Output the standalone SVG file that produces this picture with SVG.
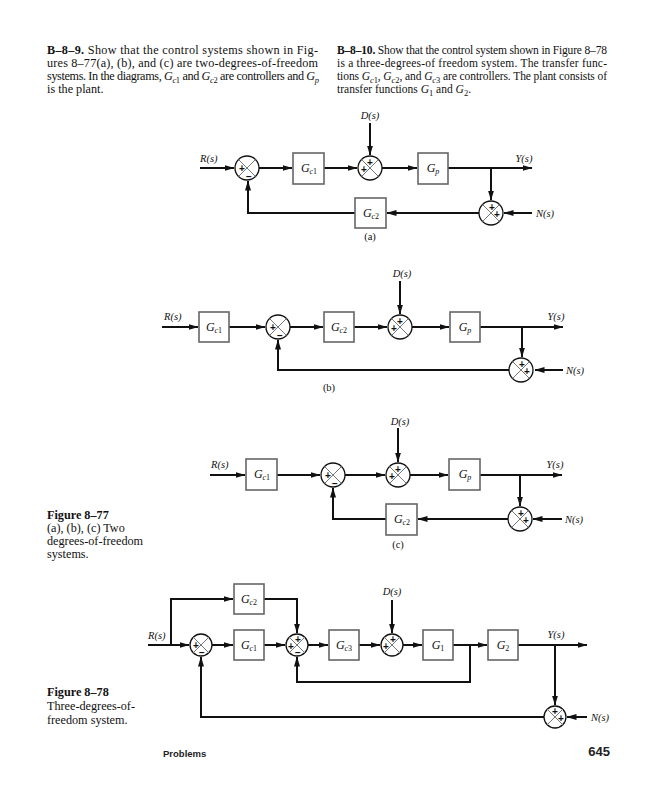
<svg xmlns="http://www.w3.org/2000/svg" xmlns:xlink="http://www.w3.org/1999/xlink" width="653" height="800" viewBox="0 0 653 800">
<style>
.p{font-family:"Liberation Serif",serif;font-size:12.2px;fill:#111}
.pr{font-family:"Liberation Serif",serif;font-size:11.5px;fill:#111}
.b{font-weight:bold}
.i{font-style:italic}
.sub{font-size:8.5px}
.lbl{font-family:"Liberation Serif",serif;font-size:10.5px;font-style:italic;fill:#111}
.cap{font-family:"Liberation Serif",serif;font-size:10.5px;fill:#111}
.blk{font-family:"Liberation Serif",serif;font-size:12px;fill:#111;text-anchor:middle}
.bs{font-size:8px}
.box{fill:#fff;stroke:#666;stroke-width:1.6}
.ln{fill:none;stroke:#111;stroke-width:2}
.sg{font-family:"Liberation Sans",sans-serif;font-size:10px;font-weight:bold;fill:#111;text-anchor:middle;dominant-baseline:central}
.ft{font-family:"Liberation Sans",sans-serif;font-weight:bold;fill:#222}
</style>
<defs>
<marker id="ah" markerWidth="10" markerHeight="6" refX="9.5" refY="3" orient="auto" markerUnits="userSpaceOnUse"><path d="M0,0 L10,3 L0,6 z" fill="#111"/></marker>
<g id="sum"><circle r="12" fill="#fff" stroke="#111" stroke-width="1.3"/><path d="M-8.5,-8.5 L8.5,8.5 M-8.5,8.5 L8.5,-8.5" stroke="#777" stroke-width="1"/></g>
<g id="sums"><circle r="11" fill="#fff" stroke="#111" stroke-width="1.3"/><path d="M-7.8,-7.8 L7.8,7.8 M-7.8,7.8 L7.8,-7.8" stroke="#777" stroke-width="1"/></g>
</defs>

<!-- Text paragraphs -->
<g id="text-b89">
<text class="p" x="47" y="54" textLength="271" lengthAdjust="spacing"><tspan class="b">B–8–9.</tspan> Show that the control systems shown in Fig-</text>
<text class="p" x="47" y="67" textLength="271" lengthAdjust="spacing">ures 8–77(a), (b), and (c) are two-degrees-of-freedom</text>
<text class="p" x="47" y="80" textLength="272" lengthAdjust="spacing">systems. In the diagrams, <tspan class="i">G</tspan><tspan class="sub" dy="2.5"><tspan class="i">c</tspan>1</tspan><tspan dy="-2.5"> and </tspan><tspan class="i">G</tspan><tspan class="sub" dy="2.5"><tspan class="i">c</tspan>2</tspan><tspan dy="-2.5"> are controllers and </tspan><tspan class="i">G</tspan><tspan class="sub i" dy="2.5">p</tspan></text>
<text class="p" x="47" y="93">is the plant.</text>
</g>
<g id="text-b810">
<text class="pr" x="337" y="54" textLength="270" lengthAdjust="spacing"><tspan class="b">B–8–10.</tspan> Show that the control system shown in Figure 8–78</text>
<text class="pr" x="337" y="67" textLength="270" lengthAdjust="spacing">is a three-degrees-of freedom system. The transfer func-</text>
<text class="pr" x="337" y="80" textLength="270" lengthAdjust="spacing">tions <tspan class="i">G</tspan><tspan class="sub" dy="2.5"><tspan class="i">c</tspan>1</tspan><tspan dy="-2.5">, </tspan><tspan class="i">G</tspan><tspan class="sub" dy="2.5"><tspan class="i">c</tspan>2</tspan><tspan dy="-2.5">, and </tspan><tspan class="i">G</tspan><tspan class="sub" dy="2.5"><tspan class="i">c</tspan>3</tspan><tspan dy="-2.5"> are controllers. The plant consists of</tspan></text>
<text class="pr" x="337" y="93">transfer functions <tspan class="i">G</tspan><tspan class="sub" dy="2.5">1</tspan><tspan dy="-2.5"> and </tspan><tspan class="i">G</tspan><tspan class="sub" dy="2.5">2</tspan><tspan dy="-2.5">.</tspan></text>
</g>

<!-- ============ Diagram (a) ============ -->
<g id="a-connectors">
<path class="ln" d="M200,168 H234" marker-end="url(#ah)"/>
<path class="ln" d="M259,168 H292" marker-end="url(#ah)"/>
<path class="ln" d="M324,168 H357" marker-end="url(#ah)"/>
<path class="ln" d="M370,123 V155" marker-end="url(#ah)"/>
<path class="ln" d="M382,168 H417" marker-end="url(#ah)"/>
<path class="ln" d="M448,168 H532" marker-end="url(#ah)"/>
<path class="ln" d="M491,168 V200" marker-end="url(#ah)"/>
<path class="ln" d="M532,213 H504" marker-end="url(#ah)"/>
<path class="ln" d="M479,213 H387" marker-end="url(#ah)"/>
<path class="ln" d="M355,213 H248 V181" marker-end="url(#ah)"/>
</g>
<g id="a-labels">
<text class="lbl" x="200" y="162">R(s)</text>
<text class="lbl" x="370" y="119" text-anchor="middle">D(s)</text>
<text class="lbl" x="524" y="162" text-anchor="middle">Y(s)</text>
<text class="lbl" x="536" y="217">N(s)</text>
<text class="cap" x="370" y="240" text-anchor="middle">(a)</text>
</g>
<g id="a-sum1"><use xlink:href="#sum" x="247" y="168"/><text class="sg" x="242" y="168">+</text><text class="sg" x="249" y="176">−</text></g>
<g id="a-Gc1"><rect class="box" x="293" y="153" width="31" height="31"/><text class="blk" x="309" y="172"><tspan class="i">G</tspan><tspan class="bs" dy="2"><tspan class="i">c</tspan>1</tspan></text></g>
<g id="a-sum2"><use xlink:href="#sum" x="370" y="168"/><text class="sg" x="370" y="162">+</text><text class="sg" x="364" y="169">+</text></g>
<g id="a-Gp"><rect class="box" x="418" y="153" width="30" height="31"/><text class="blk" x="433" y="172"><tspan class="i">G</tspan><tspan class="bs i" dy="2">p</tspan></text></g>
<g id="a-sum3"><use xlink:href="#sum" x="491" y="213"/><text class="sg" x="492" y="207">+</text><text class="sg" x="497" y="214">+</text></g>
<g id="a-Gc2"><rect class="box" x="355" y="198" width="31" height="30"/><text class="blk" x="371" y="217"><tspan class="i">G</tspan><tspan class="bs" dy="2"><tspan class="i">c</tspan>2</tspan></text></g>

<!-- ============ Diagram (b) ============ -->
<g id="b-connectors">
<path class="ln" d="M162,327 H198" marker-end="url(#ah)"/>
<path class="ln" d="M229,327 H265" marker-end="url(#ah)"/>
<path class="ln" d="M290,327 H323" marker-end="url(#ah)"/>
<path class="ln" d="M354,327 H387" marker-end="url(#ah)"/>
<path class="ln" d="M400,281 V314" marker-end="url(#ah)"/>
<path class="ln" d="M412,327 H449" marker-end="url(#ah)"/>
<path class="ln" d="M480,327 H563" marker-end="url(#ah)"/>
<path class="ln" d="M522,327 V357" marker-end="url(#ah)"/>
<path class="ln" d="M563,370 H535" marker-end="url(#ah)"/>
<path class="ln" d="M509,370 H278 V340" marker-end="url(#ah)"/>
</g>
<g id="b-labels">
<text class="lbl" x="164" y="320">R(s)</text>
<text class="lbl" x="402" y="277" text-anchor="middle">D(s)</text>
<text class="lbl" x="556" y="320" text-anchor="middle">Y(s)</text>
<text class="lbl" x="566" y="374">N(s)</text>
<text class="cap" x="329" y="391" text-anchor="middle">(b)</text>
</g>
<g id="b-Gc1"><rect class="box" x="199" y="312" width="30" height="30"/><text class="blk" x="214" y="331"><tspan class="i">G</tspan><tspan class="bs" dy="2"><tspan class="i">c</tspan>1</tspan></text></g>
<g id="b-sum1"><use xlink:href="#sum" x="278" y="327"/><text class="sg" x="273" y="327">+</text><text class="sg" x="280" y="335">−</text></g>
<g id="b-Gc2"><rect class="box" x="324" y="312" width="30" height="30"/><text class="blk" x="339" y="331"><tspan class="i">G</tspan><tspan class="bs" dy="2"><tspan class="i">c</tspan>2</tspan></text></g>
<g id="b-sum2"><use xlink:href="#sum" x="400" y="327"/><text class="sg" x="400" y="321">+</text><text class="sg" x="394" y="328">+</text></g>
<g id="b-Gp"><rect class="box" x="450" y="312" width="30" height="30"/><text class="blk" x="465" y="331"><tspan class="i">G</tspan><tspan class="bs i" dy="2">p</tspan></text></g>
<g id="b-sum3"><use xlink:href="#sum" x="521" y="370"/><text class="sg" x="522" y="364">+</text><text class="sg" x="527" y="371">+</text></g>

<!-- ============ Diagram (c) ============ -->
<g id="c-connectors">
<path class="ln" d="M210,475 H245" marker-end="url(#ah)"/>
<path class="ln" d="M277,475 H320" marker-end="url(#ah)"/>
<path class="ln" d="M345,475 H385" marker-end="url(#ah)"/>
<path class="ln" d="M398,428 V462" marker-end="url(#ah)"/>
<path class="ln" d="M410,475 H448" marker-end="url(#ah)"/>
<path class="ln" d="M480,475 H562" marker-end="url(#ah)"/>
<path class="ln" d="M520,475 V506" marker-end="url(#ah)"/>
<path class="ln" d="M562,519 H533" marker-end="url(#ah)"/>
<path class="ln" d="M508,519 H418" marker-end="url(#ah)"/>
<path class="ln" d="M386,519 H333 V488" marker-end="url(#ah)"/>
</g>
<g id="c-labels">
<text class="lbl" x="211" y="468">R(s)</text>
<text class="lbl" x="400" y="425" text-anchor="middle">D(s)</text>
<text class="lbl" x="555" y="468" text-anchor="middle">Y(s)</text>
<text class="lbl" x="565" y="523">N(s)</text>
<text class="cap" x="398" y="548" text-anchor="middle">(c)</text>
</g>
<g id="c-Gc1"><rect class="box" x="246" y="459" width="31" height="31"/><text class="blk" x="262" y="478"><tspan class="i">G</tspan><tspan class="bs" dy="2"><tspan class="i">c</tspan>1</tspan></text></g>
<g id="c-sum1"><use xlink:href="#sum" x="333" y="475"/><text class="sg" x="328" y="475">+</text><text class="sg" x="335" y="483">−</text></g>
<g id="c-sum2"><use xlink:href="#sum" x="398" y="475"/><text class="sg" x="398" y="469">+</text><text class="sg" x="392" y="476">+</text></g>
<g id="c-Gp"><rect class="box" x="449" y="459" width="31" height="31"/><text class="blk" x="465" y="478"><tspan class="i">G</tspan><tspan class="bs i" dy="2">p</tspan></text></g>
<g id="c-sum3"><use xlink:href="#sum" x="520" y="519"/><text class="sg" x="521" y="513">+</text><text class="sg" x="526" y="520">+</text></g>
<g id="c-Gc2"><rect class="box" x="386" y="504" width="31" height="31"/><text class="blk" x="402" y="523"><tspan class="i">G</tspan><tspan class="bs" dy="2"><tspan class="i">c</tspan>2</tspan></text></g>

<g id="cap-877">
<text class="p b" x="47" y="519">Figure 8–77</text>
<text class="p" x="47" y="532">(a), (b), (c) Two</text>
<text class="p" x="47" y="545">degrees-of-freedom</text>
<text class="p" x="47" y="558">systems.</text>
</g>

<!-- ============ Figure 8-78 ============ -->
<g id="f78-connectors">
<path class="ln" d="M148,645 H189" marker-end="url(#ah)"/>
<path class="ln" d="M171,645 V599 H233" marker-end="url(#ah)"/>
<path class="ln" d="M264,599 H297 V633" marker-end="url(#ah)"/>
<path class="ln" d="M212,645 H233" marker-end="url(#ah)"/>
<path class="ln" d="M264,645 H285" marker-end="url(#ah)"/>
<path class="ln" d="M308,645 H328" marker-end="url(#ah)"/>
<path class="ln" d="M359,645 H380" marker-end="url(#ah)"/>
<path class="ln" d="M392,600 V633" marker-end="url(#ah)"/>
<path class="ln" d="M403,645 H422" marker-end="url(#ah)"/>
<path class="ln" d="M453,645 H487" marker-end="url(#ah)"/>
<path class="ln" d="M470,645 V682 H297 V657" marker-end="url(#ah)"/>
<path class="ln" d="M518,645 H587" marker-end="url(#ah)"/>
<path class="ln" d="M555,645 V705" marker-end="url(#ah)"/>
<path class="ln" d="M587,717 H567" marker-end="url(#ah)"/>
<path class="ln" d="M544,717 H201 V657" marker-end="url(#ah)"/>
</g>
<g id="f78-labels">
<text class="lbl" x="148" y="639">R(s)</text>
<text class="lbl" x="392" y="595" text-anchor="middle">D(s)</text>
<text class="lbl" x="556" y="638" text-anchor="middle">Y(s)</text>
<text class="lbl" x="591" y="721">N(s)</text>
</g>
<g id="f78-Gc2"><rect class="box" x="234" y="584" width="30" height="30"/><text class="blk" x="249" y="603"><tspan class="i">G</tspan><tspan class="bs" dy="2"><tspan class="i">c</tspan>2</tspan></text></g>
<g id="f78-sum1"><use xlink:href="#sums" x="201" y="645"/><text class="sg" x="196" y="645">+</text><text class="sg" x="202" y="652">−</text></g>
<g id="f78-Gc1"><rect class="box" x="234" y="630" width="30" height="30"/><text class="blk" x="249" y="649"><tspan class="i">G</tspan><tspan class="bs" dy="2"><tspan class="i">c</tspan>1</tspan></text></g>
<g id="f78-sum2"><use xlink:href="#sums" x="297" y="645"/><text class="sg" x="298" y="639">+</text><text class="sg" x="291" y="646">+</text><text class="sg" x="298" y="652">−</text></g>
<g id="f78-Gc3"><rect class="box" x="329" y="630" width="30" height="30"/><text class="blk" x="344" y="649"><tspan class="i">G</tspan><tspan class="bs" dy="2"><tspan class="i">c</tspan>3</tspan></text></g>
<g id="f78-sum3"><use xlink:href="#sums" x="392" y="645"/><text class="sg" x="393" y="639">+</text><text class="sg" x="386" y="646">+</text></g>
<g id="f78-G1"><rect class="box" x="423" y="630" width="30" height="30"/><text class="blk" x="438" y="649"><tspan class="i">G</tspan><tspan class="bs" dy="2">1</tspan></text></g>
<g id="f78-G2"><rect class="box" x="488" y="630" width="30" height="30"/><text class="blk" x="503" y="649"><tspan class="i">G</tspan><tspan class="bs" dy="2">2</tspan></text></g>
<g id="f78-sum4"><use xlink:href="#sums" x="555" y="717"/><text class="sg" x="555" y="711">+</text><text class="sg" x="561" y="718">+</text></g>

<g id="cap-878">
<text class="p b" x="47" y="696">Figure 8–78</text>
<text class="p" x="47" y="710">Three-degrees-of-</text>
<text class="p" x="47" y="724">freedom system.</text>
</g>

<g id="footer">
<text class="ft" x="163" y="757" font-size="9.5">Problems</text>
<text class="ft" x="610" y="756" font-size="13" text-anchor="end">645</text>
</g>
</svg>
